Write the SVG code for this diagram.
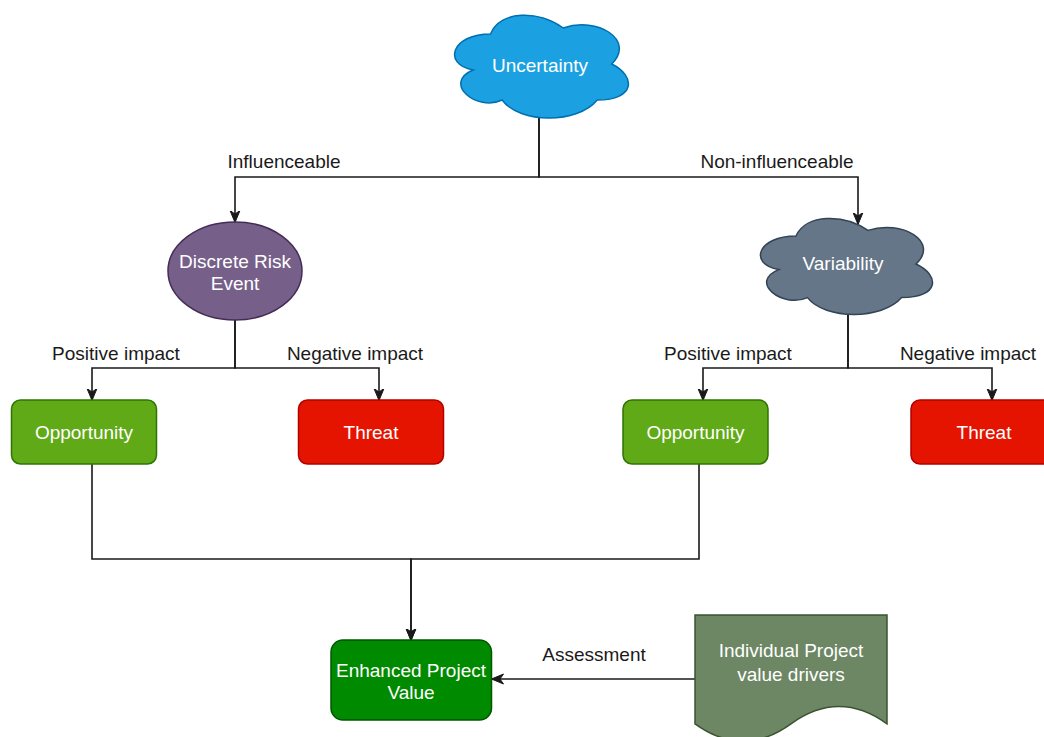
<svg xmlns="http://www.w3.org/2000/svg" width="1044" height="737" viewBox="0 0 1044 737">
  <defs>
    <style>
      .lbl { font-family: "Liberation Sans", Arial, Helvetica, sans-serif; font-size: 19px; fill: #1a1a1a; text-anchor: middle; }
      .txt { font-family: "Liberation Sans", Arial, Helvetica, sans-serif; font-size: 19px; fill: #ffffff; text-anchor: middle; }
      .edge { fill: none; stroke: #1a1a1a; stroke-width: 1.6; stroke-linejoin: miter; }
      .arrow { marker-end: url(#classic); }
      .blue { fill: #1ba1e2; stroke: #006eaf; stroke-width: 1.5; }
      .slate { fill: #647687; stroke: #314354; stroke-width: 1.5; }
      .purple { fill: #76608a; stroke: #432d57; stroke-width: 1.5; }
      .green { fill: #60a917; stroke: #2d7600; stroke-width: 1.5; }
      .red { fill: #e51400; stroke: #b20000; stroke-width: 1.5; }
      .dkgreen { fill: #008a00; stroke: #005700; stroke-width: 1.5; }
      .olive { fill: #6d8764; stroke: #3a5431; stroke-width: 1.5; }
    </style>
    <marker id="classic" viewBox="0 0 12 12" markerWidth="12" markerHeight="12" refX="11.5" refY="6" orient="auto" markerUnits="userSpaceOnUse">
      <path d="M0,1 L12,6 L0,11 L3.5,6 Z" fill="#1a1a1a" stroke="#1a1a1a" stroke-width="1"/>
    </marker>
  </defs>

  <rect width="1044" height="737" fill="#ffffff"/>

  <!-- connectors -->
  <g id="connectors">
    <path class="edge arrow" d="M539,118 L539,177 L235,177 L235,222"/>
    <path class="edge arrow" d="M539,118 L539,177 L858,177 L858,224"/>
    <path class="edge arrow" d="M235,320 L235,368 L92,368 L92,400"/>
    <path class="edge arrow" d="M235,320 L235,368 L379,368 L379,400"/>
    <path class="edge arrow" d="M848,314 L848,368 L703,368 L703,400"/>
    <path class="edge arrow" d="M848,314 L848,368 L992,368 L992,400"/>
    <path class="edge arrow" d="M92,464 L92,559 L411,559 L411,640"/>
    <path class="edge arrow" d="M699,464 L699,559 L411,559 L411,640"/>
    <path class="edge arrow" d="M695,679 L492,679"/>
    <text class="lbl" x="284" y="167.5">Influenceable</text>
    <text class="lbl" x="777" y="167.5">Non-influenceable</text>
    <text class="lbl" x="116" y="360">Positive impact</text>
    <text class="lbl" x="355" y="360">Negative impact</text>
    <text class="lbl" x="728" y="360">Positive impact</text>
    <text class="lbl" x="968" y="360">Negative impact</text>
    <text class="lbl" x="594" y="661">Assessment</text>
  </g>

  <!-- nodes -->
  <g id="uncertainty">
    <path class="blue" d="M490.5,34 C451.7,34 442,64 473,70 C442,83.2 476.9,112 502.1,100 C519.6,124 577.8,124 597.2,100 C636,100 636,76 611.75,64 C636,40 597.2,16 563.25,28 C539,10 500.2,10 490.5,34 Z"/>
    <text class="txt" x="540" y="71.5">Uncertainty</text>
  </g>

  <g id="discrete-risk-event">
    <ellipse class="purple" cx="235" cy="271" rx="67" ry="49"/>
    <text class="txt" x="235" y="267.5">Discrete Risk</text>
    <text class="txt" x="235" y="290">Event</text>
  </g>

  <g id="variability">
    <path class="slate" d="M796,236 C757.6,236 748,264 778.7,269.6 C748,281.9 782.6,308.8 807.5,297.6 C824.8,320 882.4,320 901.6,297.6 C940,297.6 940,275.2 916,264 C940,241.6 901.6,219.2 868,230.4 C844,213.6 805.6,213.6 796,236 Z"/>
    <text class="txt" x="843" y="270">Variability</text>
  </g>

  <g id="opportunity-1">
    <rect class="green" x="11.5" y="400" width="145" height="64" rx="9"/>
    <text class="txt" x="84" y="439">Opportunity</text>
  </g>

  <g id="threat-1">
    <rect class="red" x="298.5" y="400" width="145" height="64" rx="9"/>
    <text class="txt" x="371" y="439">Threat</text>
  </g>

  <g id="opportunity-2">
    <rect class="green" x="623" y="400" width="145" height="64" rx="9"/>
    <text class="txt" x="695.5" y="439">Opportunity</text>
  </g>

  <g id="threat-2">
    <rect class="red" x="911" y="400" width="145" height="64" rx="9"/>
    <text class="txt" x="984" y="439">Threat</text>
  </g>

  <g id="enhanced-project-value">
    <rect class="dkgreen" x="331" y="640" width="160.5" height="80" rx="12"/>
    <text class="txt" x="411" y="676.5">Enhanced Project</text>
    <text class="txt" x="411" y="699">Value</text>
  </g>

  <g id="value-drivers">
    <path class="olive" d="M695,615 L887,615 L887,723.8 Q839,689.2 791,723.8 Q743,758.4 695,723.8 Z"/>
    <text class="txt" x="791" y="657">Individual Project</text>
    <text class="txt" x="791" y="681">value drivers</text>
  </g>
</svg>
